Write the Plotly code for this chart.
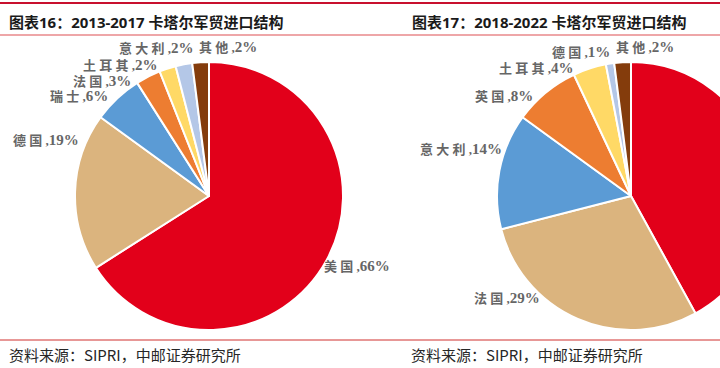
import plotly.graph_objects as go

# ---- data ----
left_labels = ["美国", "德国", "瑞士", "法国", "土耳其", "意大利", "其他"]
left_values = [66, 19, 6, 3, 2, 2, 2]
right_labels = ["美国", "法国", "意大利", "英国", "土耳其", "德国", "其他"]
right_values = [42, 29, 14, 8, 4, 1, 2]
left_title = "图表16：2013-2017 卡塔尔军贸进口结构"
right_title = "图表17：2018-2022 卡塔尔军贸进口结构"
source_text = "资料来源：SIPRI，中邮证券研究所"

# ---- styles / layout ----
left_colors = ["#E2001A", "#DBB47E", "#5B9BD5", "#ED7D31", "#FFD966", "#B4C7E7", "#843C0C"]
right_colors = ["#E2001A", "#DBB47E", "#5B9BD5", "#ED7D31", "#FFD966", "#B4C7E7", "#843C0C"]
W, H = 800, 368
# label anchor positions in pixels (x center, y center)
left_label_pos = [(357, 266), (46, 140), (79, 96), (102, 81), (120, 65), (156, 48), (228, 47)]
right_label_pos = [(757, 88), (507, 298), (461, 149), (504, 96), (536, 68), (581, 52), (645, 47)]

def px(x):
    return x / W

def py(y):
    return 1 - y / H

def label_text(name, v):
    return ("<b>" + " ".join(list(name)) + " ,<span style='font-size:15px'>" + f"{v}%" + "</span></b>")

fig = go.Figure()
for labels, values, colors, (x0, x1) in [
    (left_labels, left_values, left_colors, (75, 343)),
    (right_labels, right_values, right_colors, (497, 765)),
]:
    fig.add_trace(go.Pie(
        labels=labels, values=values, sort=False, direction="clockwise", rotation=0,
        marker=dict(colors=colors, line=dict(color="white", width=2)),
        textinfo="none", hoverinfo="label+percent", showlegend=False,
        domain=dict(x=[px(x0), px(x1)], y=[py(330), py(62)]),
    ))

annotations = []
label_font = dict(family="Liberation Serif, Noto Sans CJK SC", size=13, color="#666666")
for labels, values, pos in [(left_labels, left_values, left_label_pos), (right_labels, right_values, right_label_pos)]:
    for name, v, (x, y) in zip(labels, values, pos):
        annotations.append(dict(x=px(x), y=py(y), xref="paper", yref="paper", text=label_text(name, v),
                                showarrow=False, xanchor="center", yanchor="middle", font=label_font))

title_font = dict(family="Noto Sans, Noto Sans CJK SC", size=15, color="#1A1A1A")
for t, x in [(left_title, 7), (right_title, 410)]:
    annotations.append(dict(x=px(x), y=py(22), xref="paper", yref="paper", text="<b>" + t + "</b>",
                            showarrow=False, xanchor="left", yanchor="middle", font=title_font))
src_font = dict(family="Noto Sans CJK SC", size=15, color="#262626")
for x in [7, 409]:
    annotations.append(dict(x=px(x), y=py(354), xref="paper", yref="paper", text=source_text,
                            showarrow=False, xanchor="left", yanchor="middle", font=src_font))

shapes = [
    dict(type="line", xref="paper", yref="paper", x0=0, x1=1, y0=py(3), y1=py(3), line=dict(color="#C8102E", width=2)),
    dict(type="line", xref="paper", yref="paper", x0=0, x1=1, y0=py(35), y1=py(35), line=dict(color="#E8898B", width=1.5)),
    dict(type="line", xref="paper", yref="paper", x0=0, x1=1, y0=py(340), y1=py(340), line=dict(color="#D0302F", width=1)),
]

fig.update_layout(width=W, height=H, margin=dict(l=0, r=0, t=0, b=0),
                  paper_bgcolor="white", plot_bgcolor="white",
                  annotations=annotations, shapes=shapes)

fig.write_html("out.html", post_script="document.body.style.margin='0';document.body.style.overflow='hidden';document.documentElement.style.overflow='hidden';")
